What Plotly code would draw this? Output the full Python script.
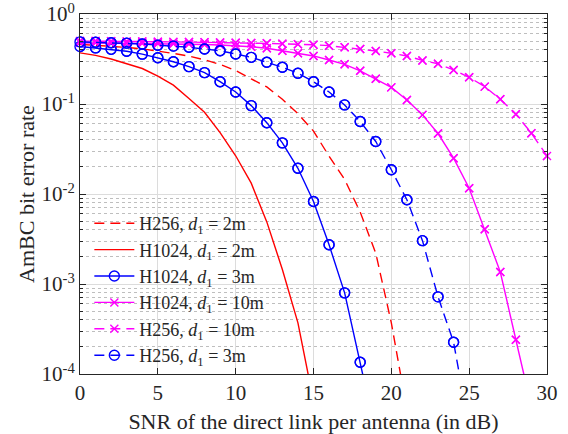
import plotly.graph_objects as go

# ---------------- data ----------------
snr = list(range(31))

h256_2m = [0.46, 0.45, 0.44, 0.425, 0.41, 0.39, 0.365, 0.34, 0.31, 0.275, 0.235,
           0.19, 0.155, 0.113, 0.078, 0.05, 0.0263, 0.0145, 0.0063, 0.0022, 3.7e-4, 4e-5]
h1024_2m = [0.37, 0.347, 0.316, 0.282, 0.248, 0.204, 0.162, 0.115, 0.081, 0.048,
            0.0266, 0.0132, 0.0049, 0.00145, 3.7e-4, 5e-5]
h1024_3m = [0.435, 0.42, 0.405, 0.385, 0.358, 0.327, 0.295, 0.26, 0.223, 0.177,
            0.136, 0.096, 0.062, 0.037, 0.0193, 0.00826, 0.00273, 7.97e-4, 1.35e-4, 2.2e-5]
h1024_10m = [0.48, 0.478, 0.476, 0.474, 0.472, 0.47, 0.467, 0.463, 0.458, 0.452,
             0.444, 0.432, 0.416, 0.391, 0.366, 0.342, 0.308, 0.276, 0.234, 0.191,
             0.153, 0.111, 0.0757, 0.047, 0.025, 0.0116, 0.00405, 0.00136, 2.4e-4, 4.3e-5]
h256_10m = [0.5, 0.5, 0.498, 0.496, 0.494, 0.492, 0.49, 0.488, 0.486, 0.483,
            0.48, 0.476, 0.472, 0.466, 0.462, 0.456, 0.445, 0.427, 0.408, 0.388,
            0.366, 0.342, 0.305, 0.28, 0.239, 0.198, 0.156, 0.113, 0.077, 0.0474, 0.0265]
h256_3m = [0.49, 0.485, 0.48, 0.475, 0.465, 0.45, 0.44, 0.427, 0.408, 0.39,
           0.36, 0.33, 0.291, 0.256, 0.22, 0.177, 0.136, 0.0977, 0.0638, 0.0383,
           0.0186, 0.00863, 0.00303, 7.2e-4, 2.25e-4, 2.5e-5]

legend_names = [
    "H256, <i>d</i><sub>1</sub> = 2m",
    "H1024, <i>d</i><sub>1</sub> = 2m",
    "H1024, <i>d</i><sub>1</sub> = 3m",
    "H1024, <i>d</i><sub>1</sub> = 10m",
    "H256, <i>d</i><sub>1</sub> = 10m",
    "H256, <i>d</i><sub>1</sub> = 3m",
]
series_values = [h256_2m, h1024_2m, h1024_3m, h1024_10m, h256_10m, h256_3m]

x_tick_vals = [0, 5, 10, 15, 20, 25, 30]
y_tick_vals = [1e-4, 1e-3, 1e-2, 1e-1, 1]
y_tick_text = ["10<sup>-4</sup>", "10<sup>-3</sup>", "10<sup>-2</sup>", "10<sup>-1</sup>", "10<sup>0</sup>"]

x_title = "SNR of the direct link per antenna (in dB)"
y_title = "AmBC bit error rate"

# ---------------- styles ----------------
RED, BLUE, MAG = "#FF0000", "#0000FF", "#FF00FF"
DASH = "10px,6px"
FONT = "Liberation Serif, Times New Roman, serif"
styles = [
    dict(color=RED, dash=DASH, symbol=None),
    dict(color=RED, dash="solid", symbol=None),
    dict(color=BLUE, dash="solid", symbol="circle-open"),
    dict(color=MAG, dash="solid", symbol="x-thin-open"),
    dict(color=MAG, dash=DASH, symbol="x-thin-open"),
    dict(color=BLUE, dash=DASH, symbol="circle-open"),
]

YMIN = 1e-4
fig = go.Figure()
for name, vals, st in zip(legend_names, series_values, styles):
    xs = snr[:len(vals)]
    msize = 10 if st["symbol"] == "circle-open" else 8
    mode = "lines+markers" if st["symbol"] else "lines"
    fig.add_trace(go.Scatter(
        x=xs, y=vals, mode=mode, name=name,
        line=dict(color=st["color"], width=1.4, dash=st["dash"]),
        marker=dict(symbol=st["symbol"] or "circle", size=msize, color=st["color"],
                    line=dict(color=st["color"], width=1.4)),
    ))
    if st["symbol"]:
        kx = [x for x, v in zip(xs, vals) if v >= YMIN]
        ky = [v for v in vals if v >= YMIN]
        fig.add_trace(go.Scatter(
            x=kx, y=ky, mode="markers", showlegend=False, cliponaxis=False,
            marker=dict(symbol=st["symbol"], size=msize, color=st["color"],
                        line=dict(color=st["color"], width=1.4)),
            hoverinfo="skip",
        ))

AX = "#262626"
minor_vals = [k * 10 ** e for e in range(-4, 0) for k in range(2, 10)]

fig.update_layout(
    width=568, height=434,
    margin=dict(l=80, r=21, t=14, b=60, autoexpand=False),
    plot_bgcolor="white", paper_bgcolor="white",
    font=dict(family=FONT, size=18, color=AX),
    legend=dict(x=0.02, y=0.0, xanchor="left", yanchor="bottom",
                bgcolor="rgba(0,0,0,0)", font=dict(family=FONT, size=18, color=AX),
                tracegroupgap=0, itemwidth=40),
    xaxis=dict(range=[0, 30], tickmode="array", tickvals=x_tick_vals,
               ticks="inside", ticklen=6, tickcolor=AX, automargin=False,
               showline=True, linecolor=AX, linewidth=1, mirror="ticks",
               showgrid=True, gridcolor="#DCDCDC", zeroline=False,
               title=dict(text=x_title, font=dict(family=FONT, size=22), standoff=13),
               tickfont=dict(family=FONT, size=21), ticklabeloverflow="allow"),
    yaxis=dict(type="log", range=[-4, 0], tickmode="array",
               tickvals=y_tick_vals, ticktext=y_tick_text,
               ticks="inside", ticklen=6, tickcolor=AX, automargin=False,
               showline=True, linecolor=AX, linewidth=1, mirror="ticks",
               showgrid=True, gridcolor="#DCDCDC", zeroline=False,
               minor=dict(tickmode="array", tickvals=minor_vals, ticks="inside",
                          ticklen=3, tickcolor=AX, showgrid=True,
                          gridcolor="#BEBEBE", griddash="dot", gridwidth=1),
               title=dict(text=y_title, font=dict(family=FONT, size=22), standoff=0),
               tickfont=dict(family=FONT, size=21), ticklabeloverflow="allow"),
)

fig.write_html("out.html", config={"displayModeBar": False},
               post_script="document.body.style.margin='0';")
